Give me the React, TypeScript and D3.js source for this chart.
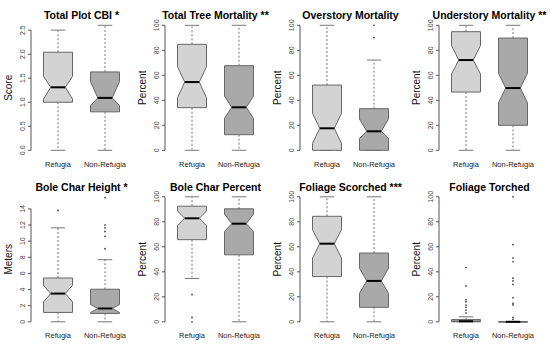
import * as d3 from "d3";

// group labels shared by all panels
const GROUPS = ["Refugia", "Non-Refugia"];
const FILLS = ["#d3d3d3", "#a9a9a9"];

const TITLES = [
  "Total Plot CBI *",
  "Total Tree Mortality **",
  "Overstory Mortality",
  "Understory Mortality **",
  "Bole Char Height *",
  "Bole Char Percent",
  "Foliage Scorched ***",
  "Foliage Torched",
];

const Y_LABELS = ["Score", "Percent", "Percent", "Percent", "Meters", "Percent", "Percent", "Percent"];

const PCT_TICKS = [0, 20, 40, 60, 80, 100];
const Y_TICKS = [
  [0, 0.5, 1, 1.5, 2, 2.5],
  PCT_TICKS,
  PCT_TICKS,
  PCT_TICKS,
  [0, 2, 4, 6, 8, 10, 12, 14],
  PCT_TICKS,
  PCT_TICKS,
  PCT_TICKS,
];
const TICK_FMT = [".1f", "d", "d", "d", "d", "d", "d", "d"];
// data range top (R sets ylim to the range of all values)
const Y_MAX = [2.6, 100, 100, 100, 15.5, 100, 100, 100];

// [lower whisker, Q1, notch low, median, notch high, Q3, upper whisker]
const REFUGIA_STATS = [
  [0, 1.0, 1.07, 1.31, 1.54, 2.04, 2.5],
  [0, 34.1, 42.1, 54.6, 66.9, 84.8, 100],
  [0, 0, 5.6, 17.6, 29.6, 52.2, 100],
  [0, 46.6, 61, 72.2, 83.8, 94.9, 100],
  [0, 1.16, 2.47, 3.5, 4.53, 5.43, 11.65],
  [34.6, 65.7, 76.9, 82.8, 88.7, 92.5, 100],
  [0, 36.2, 51, 62.5, 73.7, 84.4, 100],
  [0, 0, 0.2, 0.5, 0.8, 1.8, 4],
];
const NON_REFUGIA_STATS = [
  [0, 0.8, 0.93, 1.09, 1.43, 1.63, 2.6],
  [0, 12.5, 25.6, 34.4, 43.4, 67.7, 100],
  [0, 0, 9.6, 15.2, 25, 33.3, 72.2],
  [0, 20, 38, 49.8, 61.6, 89.8, 100],
  [0, 1.04, 1.15, 1.65, 2.15, 4.04, 7.7],
  [0, 53.6, 72.3, 78.5, 86.3, 90.4, 100],
  [0, 11.6, 22.8, 32.7, 42.9, 55, 100],
  [0, 0, 0, 0, 0, 0, 0],
];

const REFUGIA_OUT = [[], [], [], [], [13.8], [21.7, 3.5, 0], [], [43.4, 28.7, 17.6, 16, 13.4, 11.6, 9.4, 7]];
const NON_REFUGIA_OUT = [
  [],
  [],
  [100, 90.1],
  [],
  [15.4, 12, 11.65, 11.2, 10.6, 9.06],
  [],
  [],
  [100, 61.7, 51, 48.2, 34.9, 32.7, 30, 19.3, 14.8, 13.5, 3.5, 2],
];

const COL_LEFT = [0, 134, 269, 408];
const ROW_TOP = [0, 171.5];
const FONT = "Liberation Sans, Arial, sans-serif";

function BoxPlot({ stats, out, x, y, cx, fill }: any) {
  const [wlo, q1, nlo, med, nhi, q3, whi] = stats;
  const w = 14.5;
  const pts: [number, number][] = [
    [cx - w, y(q1)],
    [cx - w, y(nlo)],
    [cx - w / 2, y(med)],
    [cx - w, y(nhi)],
    [cx - w, y(q3)],
    [cx + w, y(q3)],
    [cx + w, y(nhi)],
    [cx + w / 2, y(med)],
    [cx + w, y(nlo)],
    [cx + w, y(q1)],
  ];
  const line = d3.line();
  return (
    <g>
      <line x1={cx} x2={cx} y1={y(q3)} y2={y(whi)} stroke="#777" strokeDasharray="2,2" />
      <line x1={cx} x2={cx} y1={y(q1)} y2={y(wlo)} stroke="#777" strokeDasharray="2,2" />
      <line x1={cx - w / 2} x2={cx + w / 2} y1={y(whi)} y2={y(whi)} stroke="#777" />
      <line x1={cx - w / 2} x2={cx + w / 2} y1={y(wlo)} y2={y(wlo)} stroke="#777" />
      <path d={line(pts) + "Z"} fill={fill} stroke="#666" strokeWidth={1} />
      <line x1={cx - w / 2} x2={cx + w / 2} y1={y(med)} y2={y(med)} stroke="#000" strokeWidth={2} />
      {out.map((v: number, i: number) => (
        <circle key={i} cx={cx} cy={y(v)} r={0.9} fill="#444" />
      ))}
    </g>
  );
}

function Panel({ i }: { i: number }) {
  const L = COL_LEFT[i % 4];
  const T = ROW_TOP[Math.floor(i / 4)];
  const x = d3.scaleLinear().domain([0.5, 2.5]).range([L + 34.5, L + 128.5]);
  const y = d3.scaleLinear().domain([0, Y_MAX[i]]).range([T + 150.3, T + 25.3]);
  const ticks = Y_TICKS[i];
  const fmt = d3.format(TICK_FMT[i]);
  const x0 = L + 31;
  const midY = (y(0) + y(Y_MAX[i])) / 2;
  return (
    <g>
      <text x={(x(1) + x(2)) / 2} y={T + 19} textAnchor="middle" fontWeight="bold" fontSize={10.5} fill="#000">
        {TITLES[i]}
      </text>
      <line x1={x0} x2={x0} y1={y(ticks[0])} y2={y(ticks[ticks.length - 1])} stroke="#555" />
      {ticks.map((t) => (
        <g key={t}>
          <line x1={x0 - 3} x2={x0} y1={y(t)} y2={y(t)} stroke="#555" />
          <text
            transform={`translate(${x0 - 6},${y(t)}) rotate(-90)`}
            textAnchor="middle"
            fontSize={7}
            fill="#444"
          >
            {fmt(t)}
          </text>
        </g>
      ))}
      <text
        transform={`translate(${x0 - 19},${midY}) rotate(-90)`}
        textAnchor="middle"
        fontSize={10}
        fill="#111"
      >
        {Y_LABELS[i]}
      </text>
      {GROUPS.map((g, k) => (
        <text key={g} x={x(k + 1)} y={T + 166.5} textAnchor="middle" fontSize={7.5} fill="#222">
          {g}
        </text>
      ))}
      <BoxPlot stats={REFUGIA_STATS[i]} out={REFUGIA_OUT[i]} x={x} y={y} cx={x(1)} fill={FILLS[0]} />
      <BoxPlot stats={NON_REFUGIA_STATS[i]} out={NON_REFUGIA_OUT[i]} x={x} y={y} cx={x(2)} fill={FILLS[1]} />
    </g>
  );
}

export default function App() {
  return (
    <svg
      width={550}
      height={345}
      style={{ position: "absolute", left: 0, top: 0, background: "#fff" }}
      fontFamily={FONT}
    >
      {TITLES.map((_, i) => (
        <Panel key={i} i={i} />
      ))}
    </svg>
  );
}
